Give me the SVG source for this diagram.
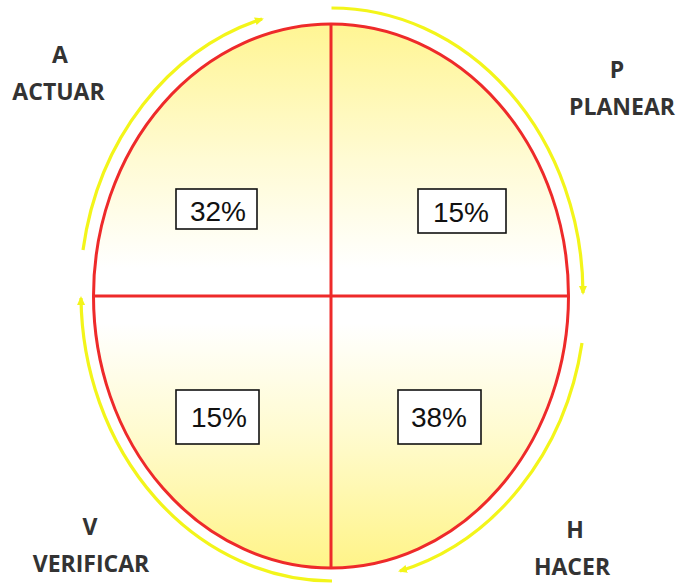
<svg xmlns="http://www.w3.org/2000/svg" width="679" height="588" viewBox="0 0 679 588">
  <defs>
    <linearGradient id="gTop" gradientUnits="userSpaceOnUse" x1="0" y1="24" x2="0" y2="296">
      <stop offset="0" stop-color="#fff593"/>
      <stop offset="0.5" stop-color="#fffbd4"/>
      <stop offset="0.9" stop-color="#ffffff"/>
    </linearGradient>
    <linearGradient id="gBot" gradientUnits="userSpaceOnUse" x1="0" y1="568" x2="0" y2="296">
      <stop offset="0" stop-color="#fff488"/>
      <stop offset="0.5" stop-color="#fffbd0"/>
      <stop offset="0.9" stop-color="#ffffff"/>
    </linearGradient>
    <marker id="arr" viewBox="0 0 9 9" refX="7" refY="4.5" markerWidth="9" markerHeight="9" markerUnits="userSpaceOnUse" orient="auto">
      <path d="M0,0.5 L9,4.5 L0,8.5 Z" fill="#f3f51a"/>
    </marker>
    <style>
      .red{fill:none;stroke:#ee2a2a;stroke-width:3}
      .cyc{fill:none;stroke:#f3f51a;stroke-width:3.2;marker-end:url(#arr)}
      .box{fill:#ffffff;stroke:#111111;stroke-width:1.6}
      .pct{font-family:"Liberation Sans",Arial,sans-serif;font-size:28px;fill:#111111;text-anchor:middle}
      .lbl{font-family:"Open Sans","Liberation Sans",sans-serif;font-weight:bold;font-size:23px;fill:#333333;text-anchor:middle}
    </style>
  </defs>

  <g id="quadrants">
    <path id="q-actuar" d="M331,296 H93.5 A237.5,272 0 0 1 331,24 Z" fill="url(#gTop)"/>
    <path id="q-planear" d="M331,296 V24 A237.5,272 0 0 1 568.5,296 Z" fill="url(#gTop)"/>
    <path id="q-hacer" d="M331,296 H568.5 A237.5,272 0 0 1 331,568 Z" fill="url(#gBot)"/>
    <path id="q-verificar" d="M331,296 V568 A237.5,272 0 0 1 93.5,296 Z" fill="url(#gBot)"/>
    <ellipse class="red" cx="331" cy="296" rx="237.5" ry="272"/>
    <line class="red" x1="93.5" y1="296" x2="568.5" y2="296"/>
    <line class="red" x1="331" y1="24" x2="331" y2="568"/>
  </g>

  <g id="connectors">
    <path class="cyc" d="M83,250 A251.5,286.5 0 0 1 262,19"/>
    <path class="cyc" d="M331.5,8 A251.5,286.5 0 0 1 583,293"/>
    <path class="cyc" d="M582,343 A251.5,286.5 0 0 1 400,571"/>
    <path class="cyc" d="M332,581 A251.5,286.5 0 0 1 81,298"/>
  </g>

  <g id="box-32">
    <rect class="box" x="176" y="189" width="81" height="40"/>
    <text class="pct" x="218" y="221">32%</text>
  </g>
  <g id="box-15a">
    <rect class="box" x="418" y="189" width="88" height="44"/>
    <text class="pct" x="461" y="222">15%</text>
  </g>
  <g id="box-15b">
    <rect class="box" x="176" y="390" width="83" height="54"/>
    <text class="pct" x="219" y="427">15%</text>
  </g>
  <g id="box-38">
    <rect class="box" x="398" y="390" width="83" height="54"/>
    <text class="pct" x="439" y="427">38%</text>
  </g>

  <g id="label-actuar">
    <text class="lbl" x="60" y="63">A</text>
    <text class="lbl" x="58.5" y="100">ACTUAR</text>
  </g>
  <g id="label-planear">
    <text class="lbl" x="617" y="78">P</text>
    <text class="lbl" x="622" y="115">PLANEAR</text>
  </g>
  <g id="label-verificar">
    <text class="lbl" x="90" y="535">V</text>
    <text class="lbl" x="91" y="572">VERIFICAR</text>
  </g>
  <g id="label-hacer">
    <text class="lbl" x="575" y="538">H</text>
    <text class="lbl" x="572" y="575">HACER</text>
  </g>
</svg>
